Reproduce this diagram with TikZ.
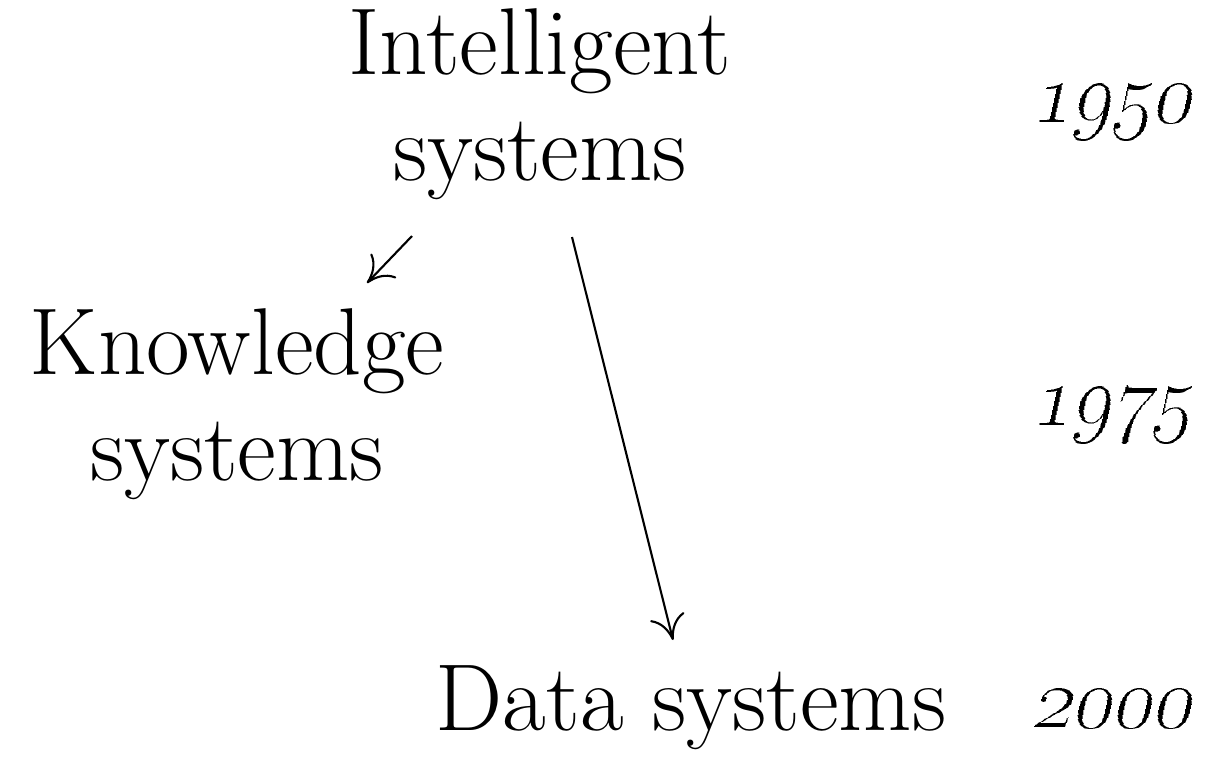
\documentclass[tikz,border=0pt]{standalone}
\usetikzlibrary{arrows.meta}
\begin{document}
\begin{tikzpicture}[x=0.01cm,y=-0.01cm,
  lbl/.style={font=\fontsize{27}{30}\selectfont, align=center, inner sep=0pt, anchor=base},
  yr/.style={font=\fontsize{27}{30}\selectfont, inner sep=0pt, anchor=base east, xslant=0.22, transform shape},
  arr/.style={line width=0.6pt, -{To[length=7pt,width=10pt]}}]
\useasboundingbox (0,0) rectangle (1206,756);
\node[lbl] (intel) at (540,180) {Intelligent\\systems};
\node[lbl] (know) at (237,480) {Knowledge\\systems};
\node[lbl] (data) at (691,730) {Data systems};
\begin{scope}[shift={(1192,122)}]
\node[yr] (y1950) at (0,0) {\oldstylenums{1950}};
\end{scope}
\begin{scope}[shift={(1192,425)}]
\node[yr] (y1975) at (0,0) {\oldstylenums{1975}};
\end{scope}
\begin{scope}[shift={(1192,727)}]
\node[yr] (y2000) at (0,0) {\oldstylenums{2000}};
\end{scope}
\coordinate (s1) at (412,236);
\coordinate (e1) at (367,283);
\coordinate (s2) at (572,237);
\coordinate (e2) at (673,640);
\draw[arr] (s1) -- (e1);
\draw[arr] (s2) -- (e2);
\end{tikzpicture}
\end{document}
